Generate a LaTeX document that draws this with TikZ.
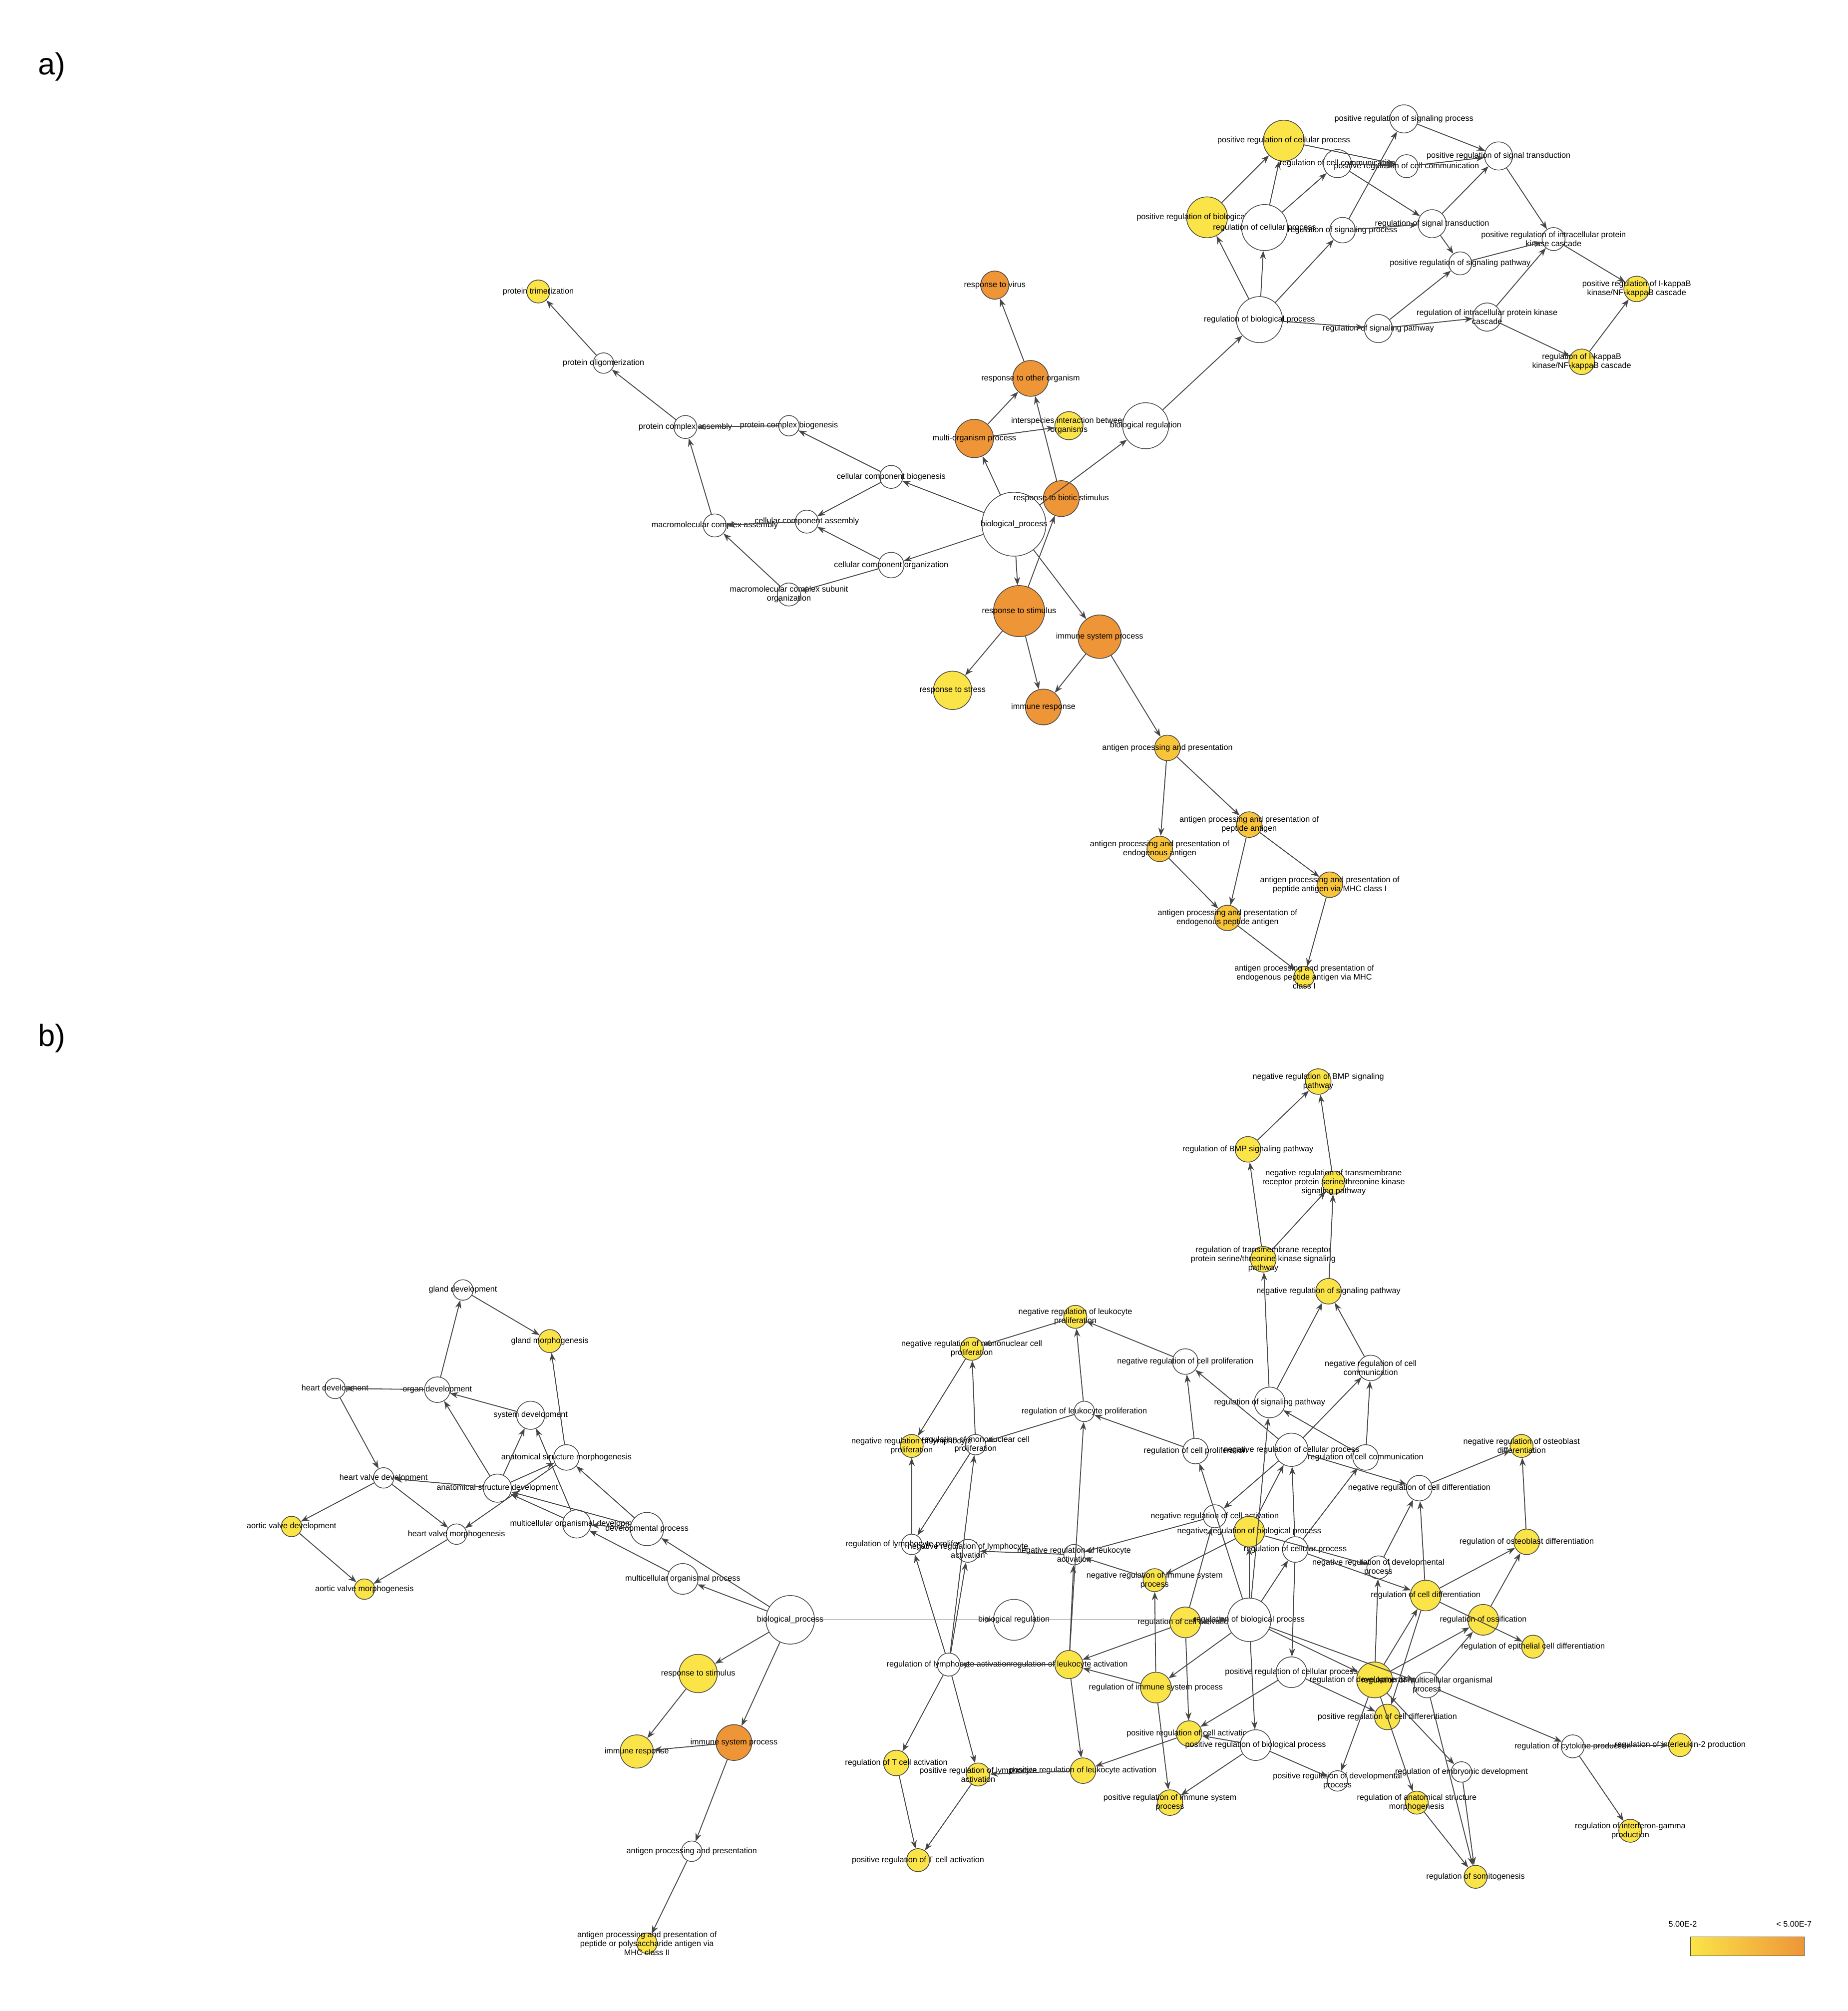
\documentclass[tikz,border=0pt]{standalone}
\usepackage{fontspec}
\setmainfont{Liberation Sans}
\usepackage{tikz}
\usetikzlibrary{arrows.meta, positioning}
\definecolor{edgegray}{RGB}{70, 70, 70}
\definecolor{goyellow}{RGB}{251, 228, 72}
\definecolor{golight}{RGB}{248, 196, 58}
\definecolor{goorange}{RGB}{238, 150, 55}

\begin{document}
\begin{tikzpicture}[
    x=0.025cm, y=-0.025cm,
    go/.style={circle, draw=edgegray, fill=white, line width=0.4pt, minimum size=#1*0.5mm, inner sep=0pt},
    yel/.style={fill=goyellow},
    lor/.style={fill=golight},
    org/.style={fill=goorange},
    lbl/.style={font=\fontsize{4.5}{5}\selectfont, align=center, inner sep=0pt},
    arrow/.style={-{Stealth[length=1.6mm, width=1.2mm]}, draw=edgegray, line width=0.5pt},
    panel/.style={font=\fontsize{17}{20}\selectfont, anchor=west}
]
\useasboundingbox[fill=white] (0,0) rectangle (1445,1573);

\node[panel] (pa) at (25,52) {a)};
\node[panel] (pb) at (25,812) {b)};

% a) cellular component
\node[go=9, yel, label={[lbl]center:protein trimerization}] (ptri) at (421,228) {};
\node[go=8, label={[lbl]center:protein oligomerization}] (poli) at (472,284) {};
\node[go=9, label={[lbl]center:protein complex assembly}] (pca) at (536,334) {};
\node[go=8, label={[lbl]center:protein complex biogenesis}] (pcb) at (617,333) {};
\node[go=9, label={[lbl]center:macromolecular complex assembly}] (mca) at (559,411) {};
\node[go=9, label={[lbl]center:cellular component assembly}] (cca) at (631,408) {};
\node[go=9, label={[lbl]center:cellular component biogenesis}] (ccb) at (697,373) {};
\node[go=10, label={[lbl]center:cellular component organization}] (cco) at (697,442) {};
\node[go=9, label={[lbl]center:macromolecular complex subunit\\organization}] (mcso) at (617,465) {};

% a) stimulus and immune
\node[go=25, label={[lbl]center:biological\_process}] (abp) at (793,410) {};
\node[go=11, org, label={[lbl]center:response to virus}] (rvir) at (778,223) {};
\node[go=14, org, label={[lbl]center:response to other organism}] (rother) at (806,296) {};
\node[go=15, org, label={[lbl]center:multi-organism process}] (multi) at (762,343) {};
\node[go=11, yel, label={[lbl]center:interspecies interaction between\\organisms}] (inter) at (836,333) {};
\node[go=18, label={[lbl]center:biological regulation}] (abreg) at (896,333) {};
\node[go=14, org, label={[lbl]center:response to biotic stimulus}] (rbio) at (830,390) {};
\node[go=20, org, label={[lbl]center:response to stimulus}] (arstim) at (797,478) {};
\node[go=17, org, label={[lbl]center:immune system process}] (aimm) at (860,498) {};
\node[go=15, yel, label={[lbl]center:response to stress}] (rstress) at (745,540) {};
\node[go=14, org, label={[lbl]center:immune response}] (aimr) at (816,553) {};

% a) antigen processing
\node[go=10, lor, label={[lbl]center:antigen processing and presentation}] (aapp) at (913,585) {};
\node[go=10, lor, label={[lbl]center:antigen processing and presentation of\\peptide antigen}] (appep) at (977,645) {};
\node[go=10, lor, label={[lbl]center:antigen processing and presentation of\\endogenous antigen}] (append) at (907,664) {};
\node[go=10, lor, label={[lbl]center:antigen processing and presentation of\\peptide antigen via MHC class I}] (appmhc) at (1040,692) {};
\node[go=10, lor, label={[lbl]center:antigen processing and presentation of\\endogenous peptide antigen}] (appendpep) at (960,718) {};
\node[go=8, yel, label={[lbl]center:antigen processing and presentation of\\endogenous peptide antigen via MHC\\class I}] (appendmhc) at (1020,764) {};

% a) regulation
\node[go=18, label={[lbl]center:regulation of biological process}] (arbp) at (985,250) {};
\node[go=16, yel, label={[lbl]center:positive regulation of biological process}] (aprbp) at (944,170) {};
\node[go=18, label={[lbl]center:regulation of cellular process}] (arcp) at (989,178) {};
\node[go=16, yel, label={[lbl]center:positive regulation of cellular process}] (aprcp) at (1004,110) {};
\node[go=11, label={[lbl]center:regulation of cell communication}] (arcc) at (1046,128) {};
\node[go=9, label={[lbl]center:positive regulation of cell communication}] (aprcc) at (1100,130) {};
\node[go=11, label={[lbl]center:positive regulation of signaling process}] (aprsp) at (1098,93) {};
\node[go=11, label={[lbl]center:positive regulation of signal transduction}] (aprst) at (1172,122) {};
\node[go=10, label={[lbl]center:regulation of signaling process}] (arsp) at (1050,180) {};
\node[go=11, label={[lbl]center:regulation of signal transduction}] (arst) at (1120,175) {};
\node[go=9, label={[lbl]center:positive regulation of signaling pathway}] (aprspw) at (1142,206) {};
\node[go=11, label={[lbl]center:regulation of signaling pathway}] (arspw) at (1078,257) {};
\node[go=11, label={[lbl]center:regulation of intracellular protein kinase\\cascade}] (aripk) at (1163,248) {};
\node[go=9, label={[lbl]center:positive regulation of intracellular protein\\kinase cascade}] (apripk) at (1215,187) {};
\node[go=10, yel, label={[lbl]center:positive regulation of I-kappaB\\kinase/NF-kappaB cascade}] (aprikb) at (1280,226) {};
\node[go=10, yel, label={[lbl]center:regulation of I-kappaB\\kinase/NF-kappaB cascade}] (arikb) at (1237,283) {};

% a) arrows
\draw[arrow] (abp) -- (ccb);
\draw[arrow] (abp) -- (cco);
\draw[arrow] (abp) -- (multi);
\draw[arrow] (abp) -- (arstim);
\draw[arrow] (abp) -- (aimm);
\draw[arrow] (abp) -- (abreg);
\draw[arrow] (ccb) -- (pcb);
\draw[arrow] (ccb) -- (cca);
\draw[arrow] (cco) -- (cca);
\draw[arrow] (cco) -- (mcso);
\draw[arrow] (pcb) -- (pca);
\draw[arrow] (cca) -- (mca);
\draw[arrow] (mcso) -- (mca);
\draw[arrow] (mca) -- (pca);
\draw[arrow] (pca) -- (poli);
\draw[arrow] (poli) -- (ptri);
\draw[arrow] (multi) -- (rother);
\draw[arrow] (multi) -- (inter);
\draw[arrow] (rbio) -- (rother);
\draw[arrow] (rother) -- (rvir);
\draw[arrow] (arstim) -- (rbio);
\draw[arrow] (arstim) -- (rstress);
\draw[arrow] (arstim) -- (aimr);
\draw[arrow] (aimm) -- (aimr);
\draw[arrow] (aimm) -- (aapp);
\draw[arrow] (aapp) -- (appep);
\draw[arrow] (aapp) -- (append);
\draw[arrow] (appep) -- (appmhc);
\draw[arrow] (appep) -- (appendpep);
\draw[arrow] (append) -- (appendpep);
\draw[arrow] (appmhc) -- (appendmhc);
\draw[arrow] (appendpep) -- (appendmhc);
\draw[arrow] (abreg) -- (arbp);
\draw[arrow] (arbp) -- (aprbp);
\draw[arrow] (arbp) -- (arcp);
\draw[arrow] (arbp) -- (arsp);
\draw[arrow] (arbp) -- (arspw);
\draw[arrow] (aprbp) -- (aprcp);
\draw[arrow] (arcp) -- (aprcp);
\draw[arrow] (arcp) -- (arcc);
\draw[arrow] (aprcp) -- (aprcc);
\draw[arrow] (arcc) -- (aprcc);
\draw[arrow] (arcc) -- (arst);
\draw[arrow] (arsp) -- (aprsp);
\draw[arrow] (arsp) -- (arst);
\draw[arrow] (aprsp) -- (aprst);
\draw[arrow] (aprcc) -- (aprst);
\draw[arrow] (arst) -- (aprst);
\draw[arrow] (arst) -- (aprspw);
\draw[arrow] (arspw) -- (aprspw);
\draw[arrow] (arspw) -- (aripk);
\draw[arrow] (aprst) -- (apripk);
\draw[arrow] (aprspw) -- (apripk);
\draw[arrow] (aripk) -- (apripk);
\draw[arrow] (aripk) -- (arikb);
\draw[arrow] (apripk) -- (aprikb);
\draw[arrow] (arikb) -- (aprikb);

% b) development
\node[go=8, label={[lbl]center:gland development}] (glandd) at (362,1009) {};
\node[go=9, yel, label={[lbl]center:gland morphogenesis}] (glandm) at (430,1049) {};
\node[go=8, label={[lbl]center:heart development}] (heartd) at (262,1086) {};
\node[go=10, label={[lbl]center:organ development}] (organd) at (342,1087) {};
\node[go=11, label={[lbl]center:system development}] (systd) at (415,1107) {};
\node[go=10, label={[lbl]center:anatomical structure morphogenesis}] (asm) at (443,1140) {};
\node[go=11, label={[lbl]center:anatomical structure development}] (asd) at (389,1164) {};
\node[go=8, label={[lbl]center:heart valve development}] (hvd) at (300,1156) {};
\node[go=8, label={[lbl]center:heart valve morphogenesis}] (hvm) at (357,1200) {};
\node[go=8, yel, label={[lbl]center:aortic valve development}] (avd) at (228,1194) {};
\node[go=8, yel, label={[lbl]center:aortic valve morphogenesis}] (avm) at (285,1243) {};
\node[go=11, label={[lbl]center:multicellular organismal development}] (mod) at (451,1192) {};
\node[go=13, label={[lbl]center:developmental process}] (devp) at (506,1196) {};
\node[go=12, label={[lbl]center:multicellular organismal process}] (mop) at (534,1235) {};
\node[go=19, label={[lbl]center:biological\_process}] (bbp) at (618,1267) {};
\node[go=16, label={[lbl]center:biological regulation}] (bbreg) at (793,1267) {};
\node[go=15, yel, label={[lbl]center:response to stimulus}] (brstim) at (546,1309) {};
\node[go=13, yel, label={[lbl]center:immune response}] (bimr) at (498,1370) {};
\node[go=14, org, label={[lbl]center:immune system process}] (bimm) at (574,1363) {};
\node[go=8, label={[lbl]center:antigen processing and presentation}] (bapp) at (541,1448) {};
\node[go=8, yel, label={[lbl]center:antigen processing and presentation of\\peptide or polysaccharide antigen via\\MHC class II}] (bmhc) at (506,1520) {};

% b) signaling
\node[go=10, yel, label={[lbl]center:negative regulation of BMP signaling\\pathway}] (nbmp) at (1031,846) {};
\node[go=10, yel, label={[lbl]center:regulation of BMP signaling pathway}] (rbmp) at (976,899) {};
\node[go=9, yel, label={[lbl]center:negative regulation of transmembrane\\receptor protein serine/threonine kinase\\signaling pathway}] (ntm) at (1043,925) {};
\node[go=10, yel, label={[lbl]center:regulation of transmembrane receptor\\protein serine/threonine kinase signaling\\pathway}] (rtm) at (988,985) {};
\node[go=10, yel, label={[lbl]center:negative regulation of signaling pathway}] (nspw) at (1039,1010) {};
\node[go=10, label={[lbl]center:negative regulation of cell\\communication}] (ncc) at (1072,1070) {};
\node[go=12, label={[lbl]center:regulation of signaling pathway}] (bspw) at (993,1097) {};
\node[go=10, label={[lbl]center:regulation of cell communication}] (bcc) at (1068,1140) {};
\node[go=13, label={[lbl]center:negative regulation of cellular process}] (ncp) at (1010,1134) {};

% b) proliferation
\node[go=9, yel, label={[lbl]center:negative regulation of leukocyte\\proliferation}] (nlp) at (841,1030) {};
\node[go=9, yel, label={[lbl]center:negative regulation of mononuclear cell\\proliferation}] (nmp) at (760,1055) {};
\node[go=10, label={[lbl]center:negative regulation of cell proliferation}] (ncpr) at (927,1065) {};
\node[go=8, label={[lbl]center:regulation of leukocyte proliferation}] (rlp) at (848,1104) {};
\node[go=8, label={[lbl]center:regulation of mononuclear cell\\proliferation}] (rmp) at (763,1130) {};
\node[go=9, yel, label={[lbl]center:negative regulation of lymphocyte\\proliferation}] (nlyp) at (713,1131) {};
\node[go=10, label={[lbl]center:regulation of cell proliferation}] (rcpr) at (935,1135) {};
\node[go=8, label={[lbl]center:regulation of lymphocyte proliferation}] (rlyp) at (713,1208) {};

% b) activation
\node[go=9, label={[lbl]center:negative regulation of cell activation}] (nca) at (950,1186) {};
\node[go=12, yel, label={[lbl]center:negative regulation of biological process}] (nbp) at (977,1198) {};
\node[go=10, label={[lbl]center:regulation of cellular process}] (bcp) at (1013,1212) {};
\node[go=9, label={[lbl]center:negative regulation of lymphocyte\\activation}] (nlya) at (757,1213) {};
\node[go=8, label={[lbl]center:negative regulation of leukocyte\\activation}] (nla) at (840,1216) {};
\node[go=9, yel, label={[lbl]center:negative regulation of immune system\\process}] (nisp) at (903,1236) {};
\node[go=12, yel, label={[lbl]center:regulation of cell activation}] (rca) at (927,1269) {};
\node[go=17, label={[lbl]center:regulation of biological process}] (brbp) at (977,1267) {};
\node[go=9, label={[lbl]center:regulation of lymphocyte activation}] (rlya) at (742,1302) {};
\node[go=11, yel, label={[lbl]center:regulation of leukocyte activation}] (rla) at (836,1302) {};
\node[go=12, yel, label={[lbl]center:regulation of immune system process}] (risp) at (904,1320) {};
\node[go=12, label={[lbl]center:positive regulation of cellular process}] (pcp) at (1010,1308) {};
\node[go=10, yel, label={[lbl]center:positive regulation of cell activation}] (pca2) at (930,1356) {};
\node[go=12, label={[lbl]center:positive regulation of biological process}] (pbp) at (982,1365) {};
\node[go=10, yel, label={[lbl]center:regulation of T cell activation}] (rtca) at (701,1379) {};
\node[go=9, yel, label={[lbl]center:positive regulation of lymphocyte\\activation}] (plya) at (765,1388) {};
\node[go=10, yel, label={[lbl]center:positive regulation of leukocyte activation}] (pla) at (847,1385) {};
\node[go=10, yel, label={[lbl]center:positive regulation of immune system\\process}] (pisp) at (915,1410) {};
\node[go=9, yel, label={[lbl]center:positive regulation of T cell activation}] (ptca) at (718,1455) {};

% b) differentiation
\node[go=9, yel, label={[lbl]center:negative regulation of osteoblast\\differentiation}] (nod) at (1190,1131) {};
\node[go=10, label={[lbl]center:negative regulation of cell differentiation}] (ncd) at (1110,1164) {};
\node[go=10, yel, label={[lbl]center:regulation of osteoblast differentiation}] (rod) at (1194,1206) {};
\node[go=9, label={[lbl]center:negative regulation of developmental\\process}] (ndp) at (1078,1226) {};
\node[go=12, yel, label={[lbl]center:regulation of cell differentiation}] (rcd) at (1115,1248) {};
\node[go=12, yel, label={[lbl]center:regulation of ossification}] (ross) at (1160,1267) {};
\node[go=9, yel, label={[lbl]center:regulation of epithelial cell differentiation}] (red) at (1199,1288) {};
\node[go=14, yel, label={[lbl]center:regulation of developmental process}] (rdp) at (1075,1314) {};
\node[go=10, label={[lbl]center:regulation of multicellular organismal\\process}] (rmop) at (1116,1318) {};
\node[go=10, yel, label={[lbl]center:positive regulation of cell differentiation}] (pcd) at (1085,1343) {};
\node[go=8, label={[lbl]center:positive regulation of developmental\\process}] (pdp) at (1046,1393) {};
\node[go=8, label={[lbl]center:regulation of embryonic development}] (red2) at (1143,1386) {};
\node[go=9, yel, label={[lbl]center:regulation of anatomical structure\\morphogenesis}] (rasm) at (1108,1410) {};
\node[go=9, yel, label={[lbl]center:regulation of somitogenesis}] (rsom) at (1154,1468) {};
\node[go=9, label={[lbl]center:regulation of cytokine production}] (rcyt) at (1230,1366) {};
\node[go=9, yel, label={[lbl]center:regulation of interleukin-2 production}] (ril2) at (1314,1365) {};
\node[go=9, yel, label={[lbl]center:regulation of interferon-gamma\\production}] (rifn) at (1275,1432) {};

% legend
\shade[left color=goyellow, right color=goorange, draw=edgegray, line width=0.3pt] (1322,1515) rectangle (1411,1530);
\node[lbl] (lmin) at (1316,1505) {5.00E-2};
\node[lbl] (lmax) at (1403,1505) {< 5.00E-7};

% b) arrows
\draw[arrow] (bbp) -- (mop);
\draw[arrow] (bbp) -- (devp);
\draw[arrow] (bbp) -- (bbreg);
\draw[arrow] (bbp) -- (brstim);
\draw[arrow] (bbp) -- (bimm);
\draw[arrow] (mop) -- (mod);
\draw[arrow] (devp) -- (mod);
\draw[arrow] (devp) -- (asd);
\draw[arrow] (devp) -- (asm);
\draw[arrow] (mod) -- (systd);
\draw[arrow] (mod) -- (asd);
\draw[arrow] (asd) -- (organd);
\draw[arrow] (asd) -- (asm);
\draw[arrow] (asd) -- (hvd);
\draw[arrow] (asd) -- (systd);
\draw[arrow] (asm) -- (glandm);
\draw[arrow] (asm) -- (hvm);
\draw[arrow] (systd) -- (organd);
\draw[arrow] (organd) -- (glandd);
\draw[arrow] (organd) -- (heartd);
\draw[arrow] (glandd) -- (glandm);
\draw[arrow] (heartd) -- (hvd);
\draw[arrow] (hvd) -- (avd);
\draw[arrow] (hvd) -- (hvm);
\draw[arrow] (hvm) -- (avm);
\draw[arrow] (avd) -- (avm);
\draw[arrow] (brstim) -- (bimr);
\draw[arrow] (bimm) -- (bimr);
\draw[arrow] (bimm) -- (bapp);
\draw[arrow] (bapp) -- (bmhc);
\draw[arrow] (bbreg) -- (brbp);
\draw[arrow] (brbp) -- (bcp);
\draw[arrow] (brbp) -- (nbp);
\draw[arrow] (brbp) -- (pbp);
\draw[arrow] (brbp) -- (rca);
\draw[arrow] (brbp) -- (risp);
\draw[arrow] (brbp) -- (rdp);
\draw[arrow] (brbp) -- (rmop);
\draw[arrow] (brbp) -- (bspw);
\draw[arrow] (brbp) -- (rcpr);
\draw[arrow] (bcp) -- (ncp);
\draw[arrow] (bcp) -- (pcp);
\draw[arrow] (bcp) -- (bcc);
\draw[arrow] (bcp) -- (rcd);
\draw[arrow] (nbp) -- (ncp);
\draw[arrow] (nbp) -- (nisp);
\draw[arrow] (nbp) -- (ndp);
\draw[arrow] (ncp) -- (ncpr);
\draw[arrow] (ncp) -- (ncc);
\draw[arrow] (ncp) -- (ncd);
\draw[arrow] (ncp) -- (nca);
\draw[arrow] (bcc) -- (ncc);
\draw[arrow] (bcc) -- (bspw);
\draw[arrow] (bspw) -- (nspw);
\draw[arrow] (bspw) -- (rtm);
\draw[arrow] (ncc) -- (nspw);
\draw[arrow] (nspw) -- (ntm);
\draw[arrow] (rtm) -- (rbmp);
\draw[arrow] (rtm) -- (ntm);
\draw[arrow] (rbmp) -- (nbmp);
\draw[arrow] (ntm) -- (nbmp);
\draw[arrow] (rcpr) -- (ncpr);
\draw[arrow] (rcpr) -- (rlp);
\draw[arrow] (ncpr) -- (nlp);
\draw[arrow] (rlp) -- (nlp);
\draw[arrow] (rlp) -- (rmp);
\draw[arrow] (nlp) -- (nmp);
\draw[arrow] (rmp) -- (nmp);
\draw[arrow] (rmp) -- (rlyp);
\draw[arrow] (nmp) -- (nlyp);
\draw[arrow] (rlyp) -- (nlyp);
\draw[arrow] (rca) -- (rla);
\draw[arrow] (rca) -- (nca);
\draw[arrow] (rca) -- (pca2);
\draw[arrow] (rla) -- (rlya);
\draw[arrow] (rla) -- (nla);
\draw[arrow] (rla) -- (pla);
\draw[arrow] (rla) -- (rlp);
\draw[arrow] (rlya) -- (rlyp);
\draw[arrow] (rlya) -- (nlya);
\draw[arrow] (rlya) -- (rtca);
\draw[arrow] (rlya) -- (plya);
\draw[arrow] (rlya) -- (rmp);
\draw[arrow] (nca) -- (nla);
\draw[arrow] (nla) -- (nlya);
\draw[arrow] (risp) -- (rla);
\draw[arrow] (risp) -- (nisp);
\draw[arrow] (risp) -- (pisp);
\draw[arrow] (nisp) -- (nla);
\draw[arrow] (pca2) -- (pla);
\draw[arrow] (pla) -- (plya);
\draw[arrow] (plya) -- (ptca);
\draw[arrow] (rtca) -- (ptca);
\draw[arrow] (pbp) -- (pisp);
\draw[arrow] (pbp) -- (pca2);
\draw[arrow] (pbp) -- (pdp);
\draw[arrow] (pcp) -- (pca2);
\draw[arrow] (pcp) -- (pcd);
\draw[arrow] (rdp) -- (rcd);
\draw[arrow] (rdp) -- (ndp);
\draw[arrow] (rdp) -- (pdp);
\draw[arrow] (rdp) -- (rasm);
\draw[arrow] (rdp) -- (red2);
\draw[arrow] (rdp) -- (ross);
\draw[arrow] (rmop) -- (ross);
\draw[arrow] (rmop) -- (rcyt);
\draw[arrow] (rmop) -- (rsom);
\draw[arrow] (rcd) -- (ncd);
\draw[arrow] (rcd) -- (rod);
\draw[arrow] (rcd) -- (red);
\draw[arrow] (rcd) -- (pcd);
\draw[arrow] (ncd) -- (nod);
\draw[arrow] (rod) -- (nod);
\draw[arrow] (ross) -- (rod);
\draw[arrow] (ndp) -- (ncd);
\draw[arrow] (rcyt) -- (ril2);
\draw[arrow] (rcyt) -- (rifn);
\draw[arrow] (red2) -- (rsom);
\draw[arrow] (rasm) -- (rsom);

\end{tikzpicture}
\end{document}
